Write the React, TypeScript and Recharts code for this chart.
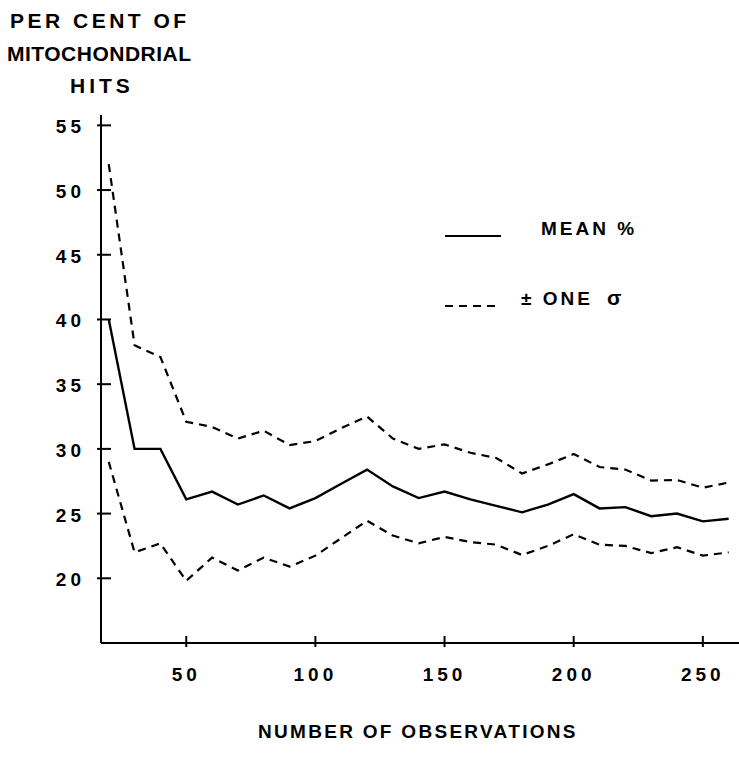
import React from "react";
import { LineChart, Line, XAxis, YAxis, Legend } from "recharts";

// number of observations (every 10)
const observations = [
  20, 30, 40, 50, 60, 70, 80, 90, 100, 110, 120, 130, 140, 150, 160, 170, 180,
  190, 200, 210, 220, 230, 240, 250, 260,
];
const meanPct = [
  40, 30, 30, 26.1, 26.7, 25.7, 26.4, 25.4, 26.2, 27.3, 28.4, 27.1, 26.2, 26.7,
  26.1, 25.6, 25.1, 25.7, 26.5, 25.4, 25.5, 24.8, 25.0, 24.4, 24.6,
];
const plusSigma = [
  52, 38, 37.1, 32.1, 31.7, 30.8, 31.4, 30.3, 30.6, 31.6, 32.5, 30.8, 30.0,
  30.35, 29.7, 29.3, 28.1, 28.8, 29.6, 28.6, 28.4, 27.55, 27.6, 27.0, 27.4,
];
const minusSigma = [
  29, 22, 22.7, 19.8, 21.6, 20.6, 21.6, 20.9, 21.75, 23.1, 24.45, 23.3, 22.7,
  23.2, 22.8, 22.6, 21.8, 22.5, 23.4, 22.6, 22.5, 21.95, 22.4, 21.75, 22.0,
];
const xTicks = [50, 100, 150, 200, 250];
const yTicks = [20, 25, 30, 35, 40, 45, 50, 55];

const data = observations.map((n, i) => ({
  n,
  mean: meanPct[i],
  upper: plusSigma[i],
  lower: minusSigma[i],
}));

const FONT = "'Liberation Sans', Arial, sans-serif";

const YTick = (props: any) => {
  const { x, y, payload } = props;
  const ax = x + 16;
  return (
    <g>
      <line x1={ax - 4} x2={ax + 10} y1={y} y2={y} stroke="#000" strokeWidth={2} />
      <text
        x={x}
        y={y}
        dy={8}
        textAnchor="end"
        fontFamily={FONT}
        fontWeight="bold"
        fontSize={19}
        letterSpacing={4}
        fill="#000"
      >
        {payload.value}
      </text>
    </g>
  );
};

const XTick = (props: any) => {
  const { x, y, payload } = props;
  return (
    <g>
      <line x1={x} x2={x} y1={y - 7} y2={y + 4} stroke="#000" strokeWidth={2} />
      <text
        x={x}
        y={y + 38}
        textAnchor="middle"
        fontFamily={FONT}
        fontWeight="bold"
        fontSize={19}
        letterSpacing={4}
        fill="#000"
      >
        {payload.value}
      </text>
    </g>
  );
};

const legendText: React.CSSProperties = {
  fontFamily: FONT,
  fontWeight: "bold",
  fontSize: 19,
  letterSpacing: 3,
  color: "#000",
};

const renderLegend = () => (
  <div style={{ width: 220 }}>
    <div style={{ display: "flex", alignItems: "flex-end", height: 30 }}>
      <svg width={56} height={10}>
        <line x1={0} x2={56} y1={6} y2={6} stroke="#000" strokeWidth={2} />
      </svg>
      <span style={{ ...legendText, marginLeft: 40 }}>MEAN %</span>
    </div>
    <div style={{ display: "flex", alignItems: "flex-end", height: 30, marginTop: 40 }}>
      <svg width={56} height={10}>
        <line x1={0} x2={56} y1={6} y2={6} stroke="#000" strokeWidth={2} strokeDasharray="8 6" />
      </svg>
      <span style={{ ...legendText, marginLeft: 20 }}>± ONE</span>
      <span style={{ ...legendText, marginLeft: 14, fontSize: 21 }}>σ</span>
    </div>
  </div>
);

const titleStyle: React.CSSProperties = {
  position: "absolute",
  fontFamily: FONT,
  fontWeight: "bold",
  fontSize: 21,
  color: "#000",
  whiteSpace: "nowrap",
  lineHeight: 1,
};

export default function App() {
  return (
    <div style={{ position: "absolute", left: 0, top: 0, width: 739, height: 768, background: "#fff" }}>
      <div style={{ ...titleStyle, left: 10, top: 10, letterSpacing: 3.5 }}>PER CENT OF</div>
      <div style={{ ...titleStyle, left: 7, top: 43, letterSpacing: 0.5 }}>MITOCHONDRIAL</div>
      <div style={{ ...titleStyle, left: 70, top: 75, letterSpacing: 4 }}>HITS</div>
      <LineChart
        width={739}
        height={768}
        data={data}
        margin={{ top: 115, right: 0, bottom: 65, left: 41 }}
      >
        <XAxis
          dataKey="n"
          type="number"
          domain={[17, 264]}
          ticks={xTicks}
          allowDataOverflow
          height={60}
          tickSize={0}
          tickMargin={0}
          tick={<XTick />}
          axisLine={{ stroke: "#000", strokeWidth: 2 }}
        />
        <YAxis
          type="number"
          domain={[15, 55.8]}
          ticks={yTicks}
          allowDataOverflow
          width={60}
          tickSize={0}
          tickMargin={16}
          tick={<YTick />}
          axisLine={{ stroke: "#000", strokeWidth: 2 }}
        />
        <Legend
          content={renderLegend}
          layout="vertical"
          align="center"
          verticalAlign="middle"
          wrapperStyle={{ left: 445, top: 210, width: 240 }}
        />
        <Line
          dataKey="mean"
          stroke="#000"
          strokeWidth={2.4}
          dot={false}
          isAnimationActive={false}
        />
        <Line
          dataKey="upper"
          stroke="#000"
          strokeWidth={2.2}
          strokeDasharray="8 6"
          dot={false}
          isAnimationActive={false}
        />
        <Line
          dataKey="lower"
          stroke="#000"
          strokeWidth={2.2}
          strokeDasharray="8 6"
          dot={false}
          isAnimationActive={false}
        />
      </LineChart>
      <div style={{ ...titleStyle, left: 258, top: 722, fontSize: 19, letterSpacing: 2.3 }}>
        NUMBER OF OBSERVATIONS
      </div>
    </div>
  );
}
